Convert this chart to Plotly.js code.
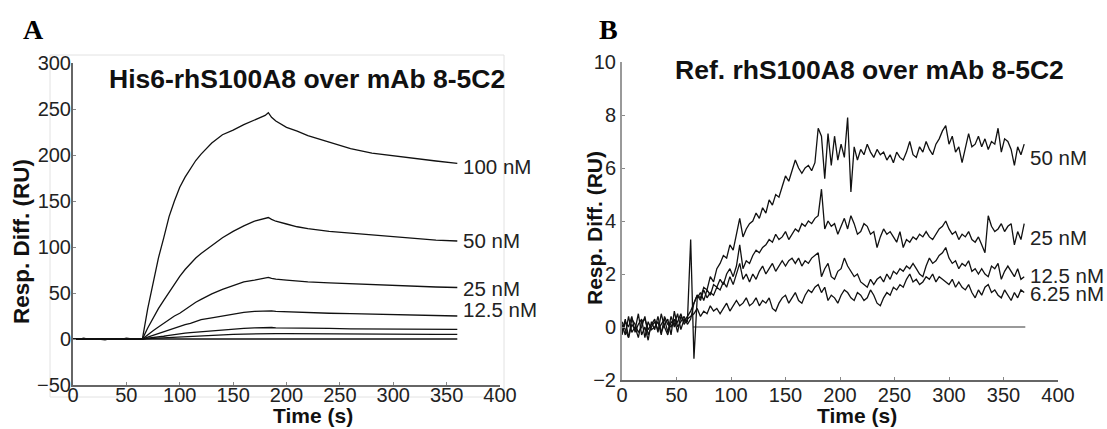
<!DOCTYPE html>
<html>
<head>
<meta charset="utf-8">
<script src="https://cdn.plot.ly/plotly-3.0.1.min.js"></script>
<style>html,body{margin:0;padding:0;background:#fff;}#chart{width:1107px;height:429px;}</style>
</head>
<body>
<div id="chart"></div>
<script>
// ---------- Panel A: His6-rhS100A8 over mAb 8-5C2 ----------
const tA = [0,5,10,15,20,25,30,35,40,45,50,55,60,65,70,75,80,85,90,95,100,105,110,115,120,130,140,150,160,170,180,183,186,190,200,210,220,240,260,280,300,320,340,360];
const a100 = [0.5,-0.5,1,-0.5,0.5,0,-1,0.5,0,-0.5,1,0,0.5,0,33,62,88,110,133,150,165,176,185,194,201,213,222,227,233,238,243,246,241,237,230,226,221,214,207,202,199,196,193.5,191];
const a50  = [0,0.5,-0.5,0,0.5,-0.5,0,0.5,0,-0.5,0,0.5,0,0,12,23,33,42,51,60,68,75.5,82,88,93,102,110,117,123,128,131,132,130,128,125,122,120,117,115,113,111,109,107.5,106.5];
const a25  = [-0.5,0,0.5,0,-0.5,0.5,0,-0.5,0.5,0,-0.5,0,0.5,0,5,9,13,17,21,25,28,32,36,40,43,49,54,58,62,64,66,67,66,65,64,63,62,61,60,59,58,57,56.5,56];
const a12  = [0,-0.5,0,0.5,0,-0.5,0.5,0,-0.5,0.5,0,-0.5,0,0,2,4,6,8,10,12,14,15.5,17,19,21,23,25,27,29,30,30.5,31,30.5,30,29.5,29.5,29,28,27.5,27,26.5,26,25.5,25];
const a6   = [0.5,0,-0.5,0,0.5,0,-0.5,0,0.5,-0.5,0,0.5,0,0,1,1.5,2.5,3,4,4.5,5.5,6.3,7,7.5,8,9,10,10.5,11.5,12,12.5,13,12.5,12,12,12,11.5,11.5,11,11,11,11,10.5,10.5];
const a3   = [0,0.5,0,-0.5,0,0.5,-0.5,0.5,0,0,-0.5,0,0.5,0,0.5,0.8,1.2,1.5,2,2.2,2.5,2.8,3,3.3,3.5,4,4.5,5,5.3,5.6,6,6.2,6,5.8,5.8,5.7,5.6,5.5,5.4,5.3,5.2,5.2,5.1,5];
const a0   = [0,-0.5,0.5,0,-0.5,0,0.5,0,-0.5,0,0.5,0,-0.5,0,0,0,0,0,0,0,0,0,0,0,0,0,0,0,0,0,0,0,0,0,0,0,0,0,0,0,0,0,0,0];
const labelsA = ["100 nM","50 nM","25 nM","12.5 nM"];
const labelA_t = [363.5,363.5,363.5,363.5];
const labelA_v = [187,107.6,55.4,32.6];

// ---------- Panel B: Ref. rhS100A8 over mAb 8-5C2 ----------
const tB = [0,3,6,9,12,15,18,21,24,27,30,33,36,39,42,45,48,51,54,57,60,63,66,69,72,75,78,81,84,87,
90,93,96,99,102,105,108,111,114,117,120,123,126,129,132,135,138,141,144,147,150,153,156,159,162,165,168,171,174,177,
180,183,186,189,192,195,198,201,204,207,210,213,216,219,222,225,228,231,234,237,240,243,246,249,252,255,258,261,264,267,
270,273,276,279,282,285,288,291,294,297,300,303,306,309,312,315,318,321,324,327,330,333,336,339,342,345,348,351,354,357,
360,363,366,369];
const b50 = [-0.2,0.3,-0.4,0.1,-0.1,0.5,-0.3,0.0,-0.5,0.2,
-0.1,0.4,-0.2,0.1,0.3,-0.3,0.6,0.0,0.2,0.4,
0.1,0.3,0.9,1.2,1.1,1.5,1.4,1.9,1.7,2.2,
2.4,2.7,2.6,3.1,2.9,3.5,4.1,3.4,3.7,3.9,
4.0,4.3,4.1,4.5,4.3,4.8,4.6,5.0,4.9,5.3,
5.7,5.5,5.9,6.3,6.0,5.8,6.0,6.1,5.9,6.2,
7.5,7.2,5.6,7.3,6.1,7.2,6.3,6.9,6.4,7.9,
5.1,6.8,6.3,6.7,6.5,6.9,6.6,6.4,6.7,6.5,
6.6,6.3,6.5,6.2,6.6,6.4,6.3,6.6,7.0,6.5,
6.4,6.8,6.6,7.0,6.7,6.5,6.9,7.1,7.4,7.6,
6.9,7.2,6.6,6.8,6.2,6.7,7.3,6.8,6.9,7.2,
6.8,7.1,6.7,7.0,6.9,7.5,6.6,7.1,7.0,6.7,
6.1,6.8,6.5,6.9];
const b25 = [0.1,-0.3,0.4,-0.2,0.0,-0.4,0.2,0.3,-0.1,0.1,
0.3,-0.2,0.5,0.0,-0.3,0.2,0.1,0.5,-0.1,0.3,
0.2,3.3,-1.2,1.1,1.3,1.0,1.4,1.2,1.6,1.5,
1.8,1.6,2.0,2.2,1.9,2.3,3.1,2.2,2.5,2.4,
2.7,2.9,2.8,3.0,3.1,3.3,3.2,3.5,3.3,3.4,
3.6,3.3,3.5,3.7,3.6,3.9,3.8,4.0,3.9,4.1,
4.2,5.2,3.7,4.0,3.8,3.9,3.5,3.8,4.1,3.7,
4.2,3.9,3.5,3.6,3.9,3.8,3.5,3.6,3.0,3.4,
3.7,3.5,3.6,3.4,3.2,3.6,3.0,3.3,3.2,3.4,
3.3,3.5,3.4,3.6,3.4,3.3,3.5,3.7,3.8,4.0,
3.7,3.5,3.6,3.3,3.5,3.4,3.6,3.3,3.2,3.4,
3.1,2.8,4.2,3.8,3.6,3.7,3.9,3.6,3.8,3.9,
3.1,3.6,3.3,3.9];
const b12 = [-0.3,0.2,0.0,0.4,-0.2,0.1,0.3,-0.4,0.2,-0.1,
0.0,0.2,-0.3,0.4,0.1,0.0,0.3,-0.2,0.4,0.2,
0.4,0.6,0.9,1.2,1.0,1.4,1.1,1.3,1.2,1.5,
1.4,1.7,1.5,1.9,1.6,2.0,2.4,1.8,2.0,1.7,
2.0,1.8,2.1,2.3,2.0,2.2,2.4,2.1,2.3,2.5,
2.3,2.5,2.6,2.4,2.6,2.3,2.5,2.4,2.6,2.7,
2.8,1.9,2.2,2.4,1.9,1.8,2.1,2.2,2.6,2.3,
2.1,1.9,2.0,1.7,1.6,1.5,1.8,1.6,1.8,1.9,
1.7,2.0,1.8,2.1,2.0,2.2,2.1,2.3,2.2,2.4,
2.2,2.0,1.9,2.3,2.6,2.4,2.5,2.7,2.8,3.0,
2.6,2.4,2.5,2.2,2.4,2.3,2.5,2.1,2.2,2.0,
2.2,2.0,1.9,2.3,2.2,2.4,1.8,2.1,2.3,2.1,
1.9,2.2,1.8,1.9];
const b6 = [0.2,-0.1,-0.4,0.3,0.1,-0.2,0.0,0.4,-0.3,0.0,
0.2,-0.1,0.1,0.3,-0.2,0.4,0.0,0.2,0.5,0.1,
0.3,0.4,0.5,0.7,0.4,0.6,0.5,0.8,0.6,0.7,
0.5,0.7,0.9,0.6,0.8,1.0,0.8,0.9,1.1,0.8,
0.9,1.1,0.8,1.0,0.9,1.1,0.7,0.6,0.9,1.1,
1.2,0.9,1.1,1.3,1.0,0.9,1.2,1.4,1.3,1.5,
1.6,1.3,1.5,1.0,1.2,1.1,0.9,1.2,1.4,1.3,
1.1,1.0,1.3,1.2,1.0,1.1,1.4,1.2,0.9,0.8,
1.1,1.3,1.2,1.5,1.4,1.6,1.5,1.8,2.0,1.7,
1.8,1.6,1.7,1.9,1.8,2.0,1.7,1.9,1.8,1.7,
1.6,1.8,1.5,1.7,1.5,1.4,1.6,1.3,1.1,1.4,
1.2,1.5,1.6,1.3,1.4,1.2,1.1,1.4,1.2,1.0,
1.3,1.1,1.4,1.3];
const zeroT = [65,370];
const zeroV = [0,0];
const labelsB = ["50 nM","25 nM","12.5 nM","6.25 nM"];
const labelB_t = [372.5,372.5,372.5,372.5];
const labelB_v = [6.38,3.36,1.96,1.28];

// ---------- layout helpers (pixel -> paper) ----------
const W = 1107, H = 429;
const px = x => x / W;
const py = y => 1 - y / H;
const FONT = "Liberation Sans, Arial, sans-serif";

function lineA(y){ return {x: tA, y: y, xaxis:'x', yaxis:'y', type:'scatter', mode:'lines', line:{color:'#111', width:1.3}, showlegend:false, hoverinfo:'skip'}; }
function lineB(y){ return {x: tB, y: y, xaxis:'x2', yaxis:'y2', type:'scatter', mode:'lines', line:{color:'#111', width:1.3}, showlegend:false, hoverinfo:'skip'}; }

const data = [
  lineA(a0), lineA(a3), lineA(a6), lineA(a12), lineA(a25), lineA(a50), lineA(a100),
  {x: zeroT, y: zeroV, xaxis:'x2', yaxis:'y2', type:'scatter', mode:'lines', line:{color:'#777', width:1.5}, showlegend:false, hoverinfo:'skip'},
  lineB(b6), lineB(b12), lineB(b25), lineB(b50)
];

const axisCommon = {
  showline:true, linecolor:'#666', linewidth:2, showgrid:false, zeroline:false,
  ticks:'inside', ticklen:3, tickcolor:'#888', tickwidth:1,
  tickfont:{family:FONT, size:20, color:'#222'}
};

const annotations = [];
labelsA.forEach((s,i)=>annotations.push({x:labelA_t[i], y:labelA_v[i], xref:'x', yref:'y', text:s, showarrow:false, xanchor:'left', yanchor:'middle', font:{family:FONT, size:20.5, color:'#222'}}));
labelsB.forEach((s,i)=>annotations.push({x:labelB_t[i], y:labelB_v[i], xref:'x2', yref:'y2', text:s, showarrow:false, xanchor:'left', yanchor:'middle', font:{family:FONT, size:20.5, color:'#222'}}));
// titles
annotations.push({x:px(307), y:py(79), xref:'paper', yref:'paper', text:'<b>His6-rhS100A8 over mAb 8-5C2</b>', showarrow:false, xanchor:'center', yanchor:'middle', font:{family:FONT, size:26.5, color:'#111'}});
annotations.push({x:px(869), y:py(70), xref:'paper', yref:'paper', text:'<b>Ref. rhS100A8 over mAb 8-5C2</b>', showarrow:false, xanchor:'center', yanchor:'middle', font:{family:FONT, size:26.5, color:'#111'}});
// axis titles
annotations.push({x:px(313), y:py(415), xref:'paper', yref:'paper', text:'<b>Time (s)</b>', showarrow:false, xanchor:'center', yanchor:'middle', font:{family:FONT, size:21, color:'#111'}});
annotations.push({x:px(857), y:py(415), xref:'paper', yref:'paper', text:'<b>Time (s)</b>', showarrow:false, xanchor:'center', yanchor:'middle', font:{family:FONT, size:21, color:'#111'}});
annotations.push({x:px(21), y:py(242), xref:'paper', yref:'paper', text:'<b>Resp. Diff. (RU)</b>', textangle:-90, showarrow:false, xanchor:'center', yanchor:'middle', font:{family:FONT, size:22.5, color:'#111'}});
annotations.push({x:px(594), y:py(228), xref:'paper', yref:'paper', text:'<b>Resp. Diff. (RU)</b>', textangle:-90, showarrow:false, xanchor:'center', yanchor:'middle', font:{family:FONT, size:21, color:'#111'}});
// panel letters
annotations.push({x:px(33), y:py(29), xref:'paper', yref:'paper', text:'<b>A</b>', showarrow:false, xanchor:'center', yanchor:'middle', font:{family:'Liberation Serif, DejaVu Serif, serif', size:28, color:'#000'}});
annotations.push({x:px(608), y:py(29), xref:'paper', yref:'paper', text:'<b>B</b>', showarrow:false, xanchor:'center', yanchor:'middle', font:{family:'Liberation Serif, DejaVu Serif, serif', size:28, color:'#000'}});

const layout = {
  width: W, height: H,
  margin:{l:0, r:0, t:0, b:0},
  paper_bgcolor:'#fff', plot_bgcolor:'rgba(0,0,0,0)',
  showlegend:false,
  xaxis: Object.assign({}, axisCommon, {domain:[px(73), px(500)], range:[0,400], dtick:50, tick0:0, anchor:'y', ticklabelstandoff:-9}),
  yaxis: Object.assign({}, axisCommon, {domain:[py(385), py(63)], range:[-50,300], dtick:50, tick0:0, anchor:'x', ticklabelstandoff:-4}),
  xaxis2: Object.assign({}, axisCommon, {domain:[px(622), px(1058)], range:[0,400], dtick:50, tick0:0, anchor:'y2', ticklabelstandoff:-4}),
  yaxis2: Object.assign({}, axisCommon, {domain:[py(380), py(62)], range:[-2,10], dtick:2, tick0:0, anchor:'x2', linecolor:'#999'}),
  shapes:[
    {type:'rect', xref:'paper', yref:'paper', x0:px(50), x1:px(504), y0:py(397), y1:py(55), line:{color:'#e2e2e2', width:1}, fillcolor:'rgba(0,0,0,0)', layer:'below'}
  ],
  annotations: annotations
};

Plotly.newPlot('chart', data, layout, {staticPlot:true, displayModeBar:false});
</script>
</body>
</html>
